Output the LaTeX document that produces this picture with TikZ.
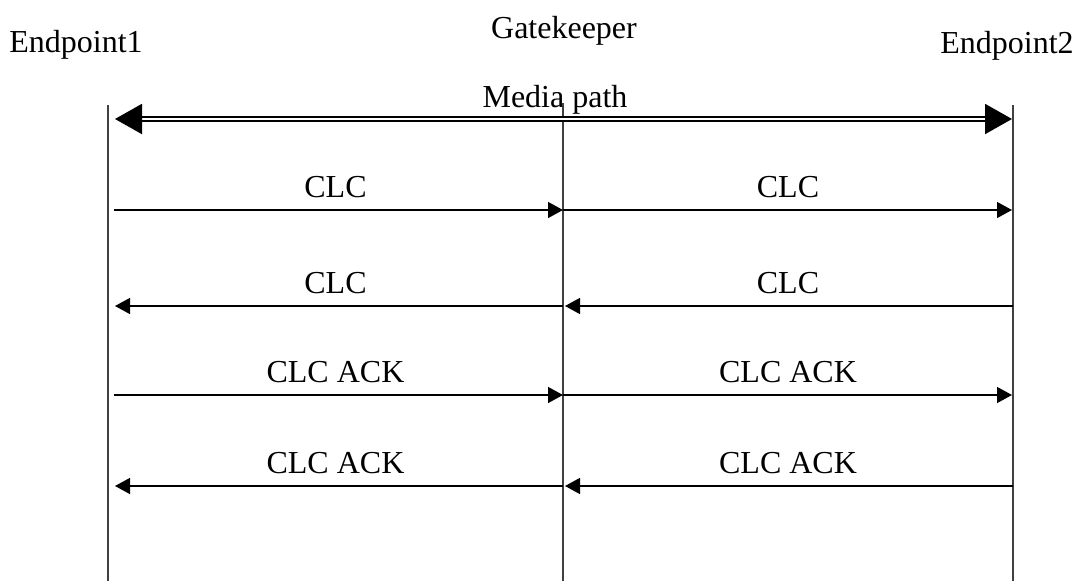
\documentclass[tikz,border=0pt]{standalone}
\usepackage{fontspec}
\setmainfont{Liberation Serif}
\usepackage{tikz}
\usetikzlibrary{arrows.meta}

\begin{document}
\begin{tikzpicture} [x=1pt, y=-1pt,
    lbl/.style={font=\fontsize{32}{38}\selectfont, inner sep=0pt, text depth=0pt},
    life/.style={line width=1.2pt, black!75},
    msg/.style={line width=1.4pt, -{Triangle[length=15pt,width=16pt]}} ]
  \useasboundingbox (0,0) rectangle (1077,581);
  \node[lbl, anchor=base] (ep1) at (76,52) {Endpoint1};
  \node[lbl, anchor=base] (gk) at (564,38) {Gatekeeper};
  \node[lbl, anchor=base] (ep2) at (1007,53) {Endpoint2};
  \node[lbl, anchor=base] (mp) at (555,107) {Media path};
  % lifelines
  \coordinate (a0) at (108,105);
  \coordinate (b0) at (563,103);
  \coordinate (c0) at (1013,105);
  \foreach \n/\y in {m/119, 1/210, 2/306, 3/395, 4/486, 9/581} {
    \coordinate (a\n) at (108,\y);
    \coordinate (b\n) at (563,\y);
    \coordinate (c\n) at (1013,\y);
  }
  \draw[life] (a0) -- (a9);
  \draw[life] (b0) -- (b9);
  \draw[life] (c0) -- (c9);
  % media path
  \draw[double, line width=2pt, double distance=2.5pt,
    {Triangle[length=27pt,width=30pt]}-{Triangle[length=27pt,width=30pt]},
    shorten <=7pt, shorten >=1pt] (am) -- (cm);
  %TODO: labels
  \path[msg]
  (a1) edge[shorten <=6pt] node[lbl, above=12pt]{CLC} (b1)
  (b1) edge[shorten >=1pt] node[lbl, above=12pt]{CLC} (c1)
  (b2) edge[shorten >=7pt] node[lbl, above=12pt]{CLC} (a2)
  (c2) edge[shorten >=2pt] node[lbl, above=12pt]{CLC} (b2)
  (a3) edge[shorten <=6pt] node[lbl, above=12pt]{CLC ACK} (b3)
  (b3) edge[shorten >=1pt] node[lbl, above=12pt]{CLC ACK} (c3)
  (b4) edge[shorten >=7pt] node[lbl, above=12pt]{CLC ACK} (a4)
  (c4) edge[shorten >=2pt] node[lbl, above=12pt]{CLC ACK} (b4)
  ;
\end{tikzpicture}
\end{document}
